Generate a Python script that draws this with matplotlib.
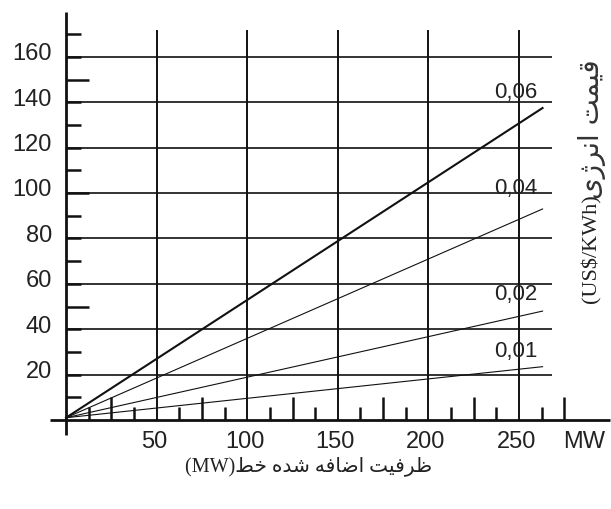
import matplotlib
matplotlib.use("Agg")
import matplotlib.pyplot as plt
import numpy as np

# lines for each energy price (US$/kWh): start and end points
price_labels = ["0,06", "0,04", "0,02", "0,01"]
line_x = [0, 263]
line_y = [[1, 137.5], [1, 93], [1, 48], [1, 23.5]]
label_pos_y = [144.5, 102, 55.5, 30]

y_ticks = [20, 40, 60, 80, 100, 120, 140, 160]
x_ticks = [50, 100, 150, 200, 250]

# persian text shaped by hand (presentation forms, visual order)
xlabel_fa = ("(MW)"
             "\uFEC2\uFEA7 "                       # خط
             "\uFEE9\uFEAA\uFEB7 "                 # شده
             "\uFEEA\uFED3\uFE8E\uFEBF\uFE8D "     # اضافه
             "\uFE96\uFBFF\uFED3\uFEAE\uFEC7")     # ظرفیت
ylabel_unit = "(US$/KWh)"
ylabel_fa = ("\uFBFC\uFB8A\uFEAE\uFEE7\uFE8D "     # انرژی
             "\uFE96\uFEE4\uFBFF\uFED7")           # قیمت

fig = plt.figure(figsize=(6.11, 5.09), dpi=100)
ax = fig.add_axes([66 / 611, 89 / 509, 300 * 1.812 / 611, 180 * 2.269 / 509])
ax.set_xlim(0, 300)
ax.set_ylim(0, 180)
ax.axis("off")

ink = "#111111"
tick_font = dict(family="Liberation Sans", size=17, color="#222222")

# grid
ax.hlines(y_ticks, 0, 268, color=ink, lw=1.2, clip_on=False)
ax.vlines(x_ticks, 0, 172, color=ink, lw=1.4, clip_on=False)

# axes
ax.plot([0, 0], [-6.6, 180], color=ink, lw=2, clip_on=False, solid_capstyle="butt")
ax.plot([-8.8, 300], [0, 0], color=ink, lw=2, clip_on=False, solid_capstyle="butt")

# small ticks on y axis
for v in range(10, 180, 10):
    ln = 12.7 if v % 50 == 0 else 8.3
    ax.plot([0, ln], [v, v], color=ink, lw=1.8, solid_capstyle="butt", clip_on=False)

# small ticks on x axis
for v in np.arange(12.5, 276, 12.5):
    if v % 50 == 0:
        continue
    ln = 10.1 if v % 25 == 0 else 5.7
    ax.plot([v, v], [0, ln], color=ink, lw=1.8, solid_capstyle="butt", clip_on=False)

# price lines
for i, ys in enumerate(line_y):
    ax.plot(line_x, ys, color=ink, lw=1.5 if i == 0 else 0.8, clip_on=False)
    ax.text(248.3, label_pos_y[i], price_labels[i], ha="center", va="center",
            **dict(tick_font, size=16))

# tick labels
for v in y_ticks:
    ax.text(-7.7, v + 1.2, str(v), ha="right", va="center", **tick_font)
for v in x_ticks:
    ax.text(v - 1.5, -9.5, str(v), ha="center", va="center", **tick_font)
ax.text(286, -9.5, "MW", ha="center", va="center", **tick_font)

# axis titles
ax.text(134, -20.5, xlabel_fa, ha="center", va="center", fontsize=14.5,
        family=["Liberation Serif", "DejaVu Sans"], color="#222222")
ax.text(290, 51.5, ylabel_unit, ha="center", va="bottom", rotation=90,
        fontsize=16, family="Liberation Serif", color="#222222")
ax.text(290.5, 97.5, ylabel_fa, ha="center", va="bottom", rotation=90,
        fontsize=20, family="DejaVu Sans", color="#333333")

fig.savefig("out.png", dpi=100)
